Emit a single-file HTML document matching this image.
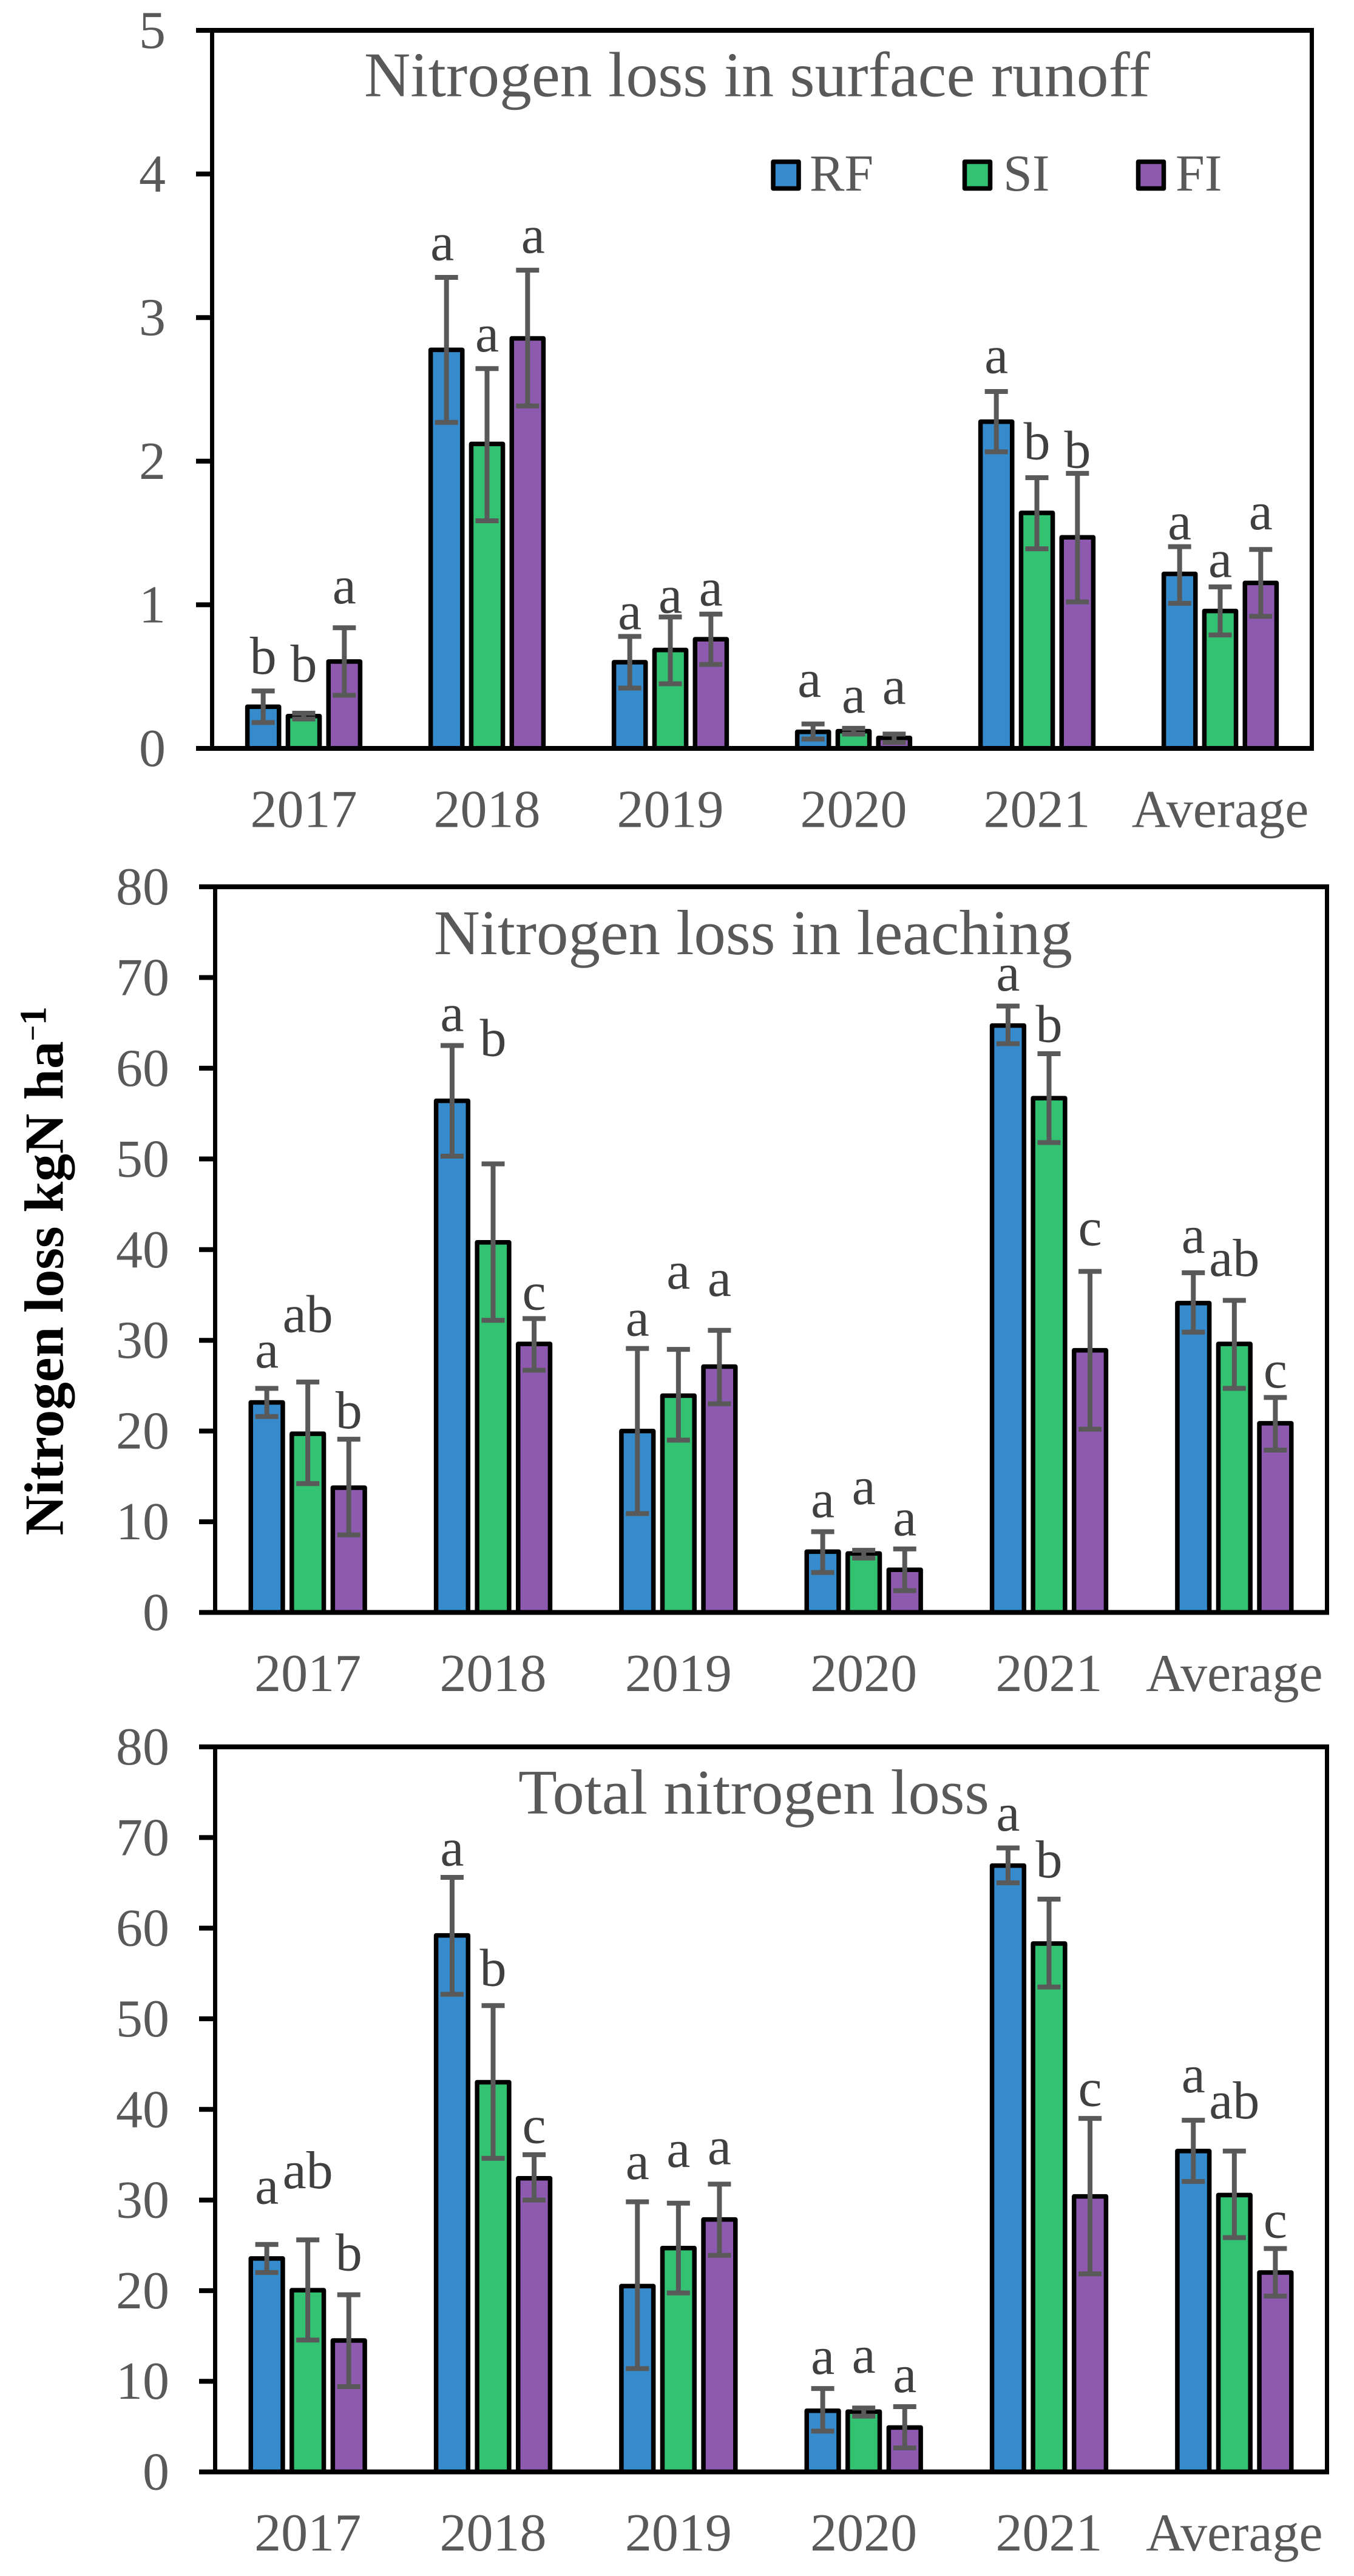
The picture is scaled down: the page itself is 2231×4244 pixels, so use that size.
<!DOCTYPE html>
<html lang="en">
<head>
<meta charset="utf-8">
<title>Nitrogen loss charts</title>
<style>
html,body{margin:0;padding:0;background:#fff;}
svg{display:block;}
text{font-family:"Liberation Serif","Times New Roman",serif;}
</style>
</head>
<body>
<svg id="chart" xmlns="http://www.w3.org/2000/svg" width="2231" height="4244" viewBox="0 0 2231 4244">
  <rect x="0" y="0" width="2231" height="4244" fill="#ffffff"/>
  <g id="panel-runoff"></g>
  <g id="panel-leaching"></g>
  <g id="panel-total"></g>

  <text x="600" y="158.5" font-size="105" fill="#595959" textLength="1295" lengthAdjust="spacingAndGlyphs">Nitrogen loss in surface runoff</text>
  <text x="715" y="1572" font-size="105" fill="#595959" textLength="1052" lengthAdjust="spacingAndGlyphs">Nitrogen loss in leaching</text>
  <text x="854" y="2988" font-size="105" fill="#595959" textLength="776" lengthAdjust="spacingAndGlyphs">Total nitrogen loss</text>

  <g>
    <g>
      <rect x="1274" y="266.5" width="42" height="44" fill="#358bcc" stroke="#000" stroke-width="7.5" stroke-linejoin="round"/>
      <text x="1334" y="314" font-size="86" fill="#595959">RF</text>
    </g>
    <g>
      <rect x="1589.5" y="266.5" width="42" height="44" fill="#33c172" stroke="#000" stroke-width="7.5" stroke-linejoin="round"/>
      <text x="1653" y="314" font-size="86" fill="#595959">SI</text>
    </g>
    <g>
      <rect x="1875.5" y="266.5" width="42" height="44" fill="#8e5ab0" stroke="#000" stroke-width="7.5" stroke-linejoin="round"/>
      <text x="1937" y="314" font-size="86" fill="#595959">FI</text>
    </g>
  </g>

  <text transform="translate(103.5,2529.6) rotate(-90)" font-size="91.5" font-weight="bold" fill="#000">Nitrogen loss kgN ha<tspan dy="-34" font-size="46">−</tspan><tspan dy="6" font-size="62">1</tspan></text>
</svg>

<script>
const categories = ['2017', '2018', '2019', '2020', '2021', 'Average'];

const runoffTicks = ['0', '1', '2', '3', '4', '5'];
const leachingTicks = ['0', '10', '20', '30', '40', '50', '60', '70', '80'];
const totalTicks = ['0', '10', '20', '30', '40', '50', '60', '70', '80'];

const runoffRF = [0.29, 2.775, 0.60, 0.115, 2.275, 1.215];
const runoffRFUpper = [0.40, 3.28, 0.78, 0.17, 2.485, 1.405];
const runoffRFLower = [0.18, 2.27, 0.42, 0.065, 2.065, 1.01];
const runoffSI = [0.225, 2.12, 0.685, 0.12, 1.64, 0.957];
const runoffSIUpper = [0.245, 2.645, 0.915, 0.14, 1.885, 1.125];
const runoffSILower = [0.205, 1.585, 0.45, 0.10, 1.39, 0.79];
const runoffFI = [0.605, 2.855, 0.76, 0.073, 1.47, 1.152];
const runoffFIUpper = [0.84, 3.33, 0.935, 0.10, 1.915, 1.385];
const runoffFILower = [0.37, 2.385, 0.585, 0.042, 1.02, 0.92];
const runoffLettersRF = ['b', 'a', 'a', 'a', 'a', 'a'];
const runoffLettersSI = ['b', 'a', 'a', 'a', 'b', 'a'];
const runoffLettersFI = ['a', 'a', 'a', 'a', 'b', 'a'];
const runoffLiftRF = [0.12, 0.12, 0.05, 0.19, 0.13, 0.05];
const runoffLiftSI = [0.22, 0.12, 0.03, 0.11, 0.13, 0.07];
const runoffLiftFI = [0.17, 0.12, 0.06, 0.21, 0.04, 0.14];

const leachingRF = [23.15, 56.4, 20.0, 6.7, 64.7, 34.1];
const leachingRFUpper = [24.7, 62.5, 29.1, 8.9, 66.85, 37.45];
const leachingRFLower = [21.6, 50.3, 10.9, 4.4, 62.7, 30.9];
const leachingSI = [19.7, 40.8, 23.9, 6.5, 56.7, 29.6];
const leachingSIUpper = [25.4, 49.45, 29.0, 6.85, 61.6, 34.4];
const leachingSILower = [14.2, 32.2, 19.0, 6.0, 51.8, 24.7];
const leachingFI = [13.75, 29.6, 27.1, 4.7, 28.9, 20.85];
const leachingFIUpper = [19.1, 32.4, 31.1, 7.0, 37.6, 23.7];
const leachingFILower = [8.55, 26.7, 23.0, 2.4, 20.2, 17.9];
const leachingLettersRF = ['a', 'a', 'a', 'a', 'a', 'a'];
const leachingLettersSI = ['ab', 'b', 'a', 'a', 'b', 'ab'];
const leachingLettersFI = ['b', 'c', 'a', 'a', 'c', 'c'];
const leachingLiftRF = [2.3, 1.6, 1.4, 1.6, 1.7, 2.2];
const leachingLiftSI = [5.5, 11.9, 6.7, 5.1, 1.3, 2.7];
const leachingLiftFI = [1.2, 1.0, 3.8, 1.5, 2.9, 1.1];

const totalRF = [23.55, 59.2, 20.5, 6.75, 66.9, 35.4];
const totalRFUpper = [25.1, 65.6, 29.8, 9.2, 68.85, 38.8];
const totalRFLower = [22.0, 52.7, 11.4, 4.5, 65.0, 32.05];
const totalSI = [20.05, 43.0, 24.7, 6.65, 58.3, 30.55];
const totalSIUpper = [25.6, 51.45, 29.65, 7.05, 63.2, 35.4];
const totalSILower = [14.55, 34.6, 19.75, 6.15, 53.5, 25.85];
const totalFI = [14.5, 32.4, 27.85, 4.9, 30.4, 22.0];
const totalFIUpper = [19.55, 35.0, 31.75, 7.2, 39.0, 24.65];
const totalFILower = [9.4, 30.0, 23.9, 2.65, 21.85, 19.4];
const totalLettersRF = ['a', 'a', 'a', 'a', 'a', 'a'];
const totalLettersSI = ['ab', 'b', 'a', 'a', 'b', 'ab'];
const totalLettersFI = ['b', 'c', 'a', 'a', 'c', 'c'];
const totalLiftRF = [4.5, 1.3, 2.5, 1.6, 1.9, 3.1];
const totalLiftSI = [5.7, 2.2, 4.0, 3.9, 2.4, 3.6];
const totalLiftFI = [2.7, 1.3, 2.2, 1.6, 1.4, 1.2];

const SVG_NS = 'http://www.w3.org/2000/svg';

function make(parent, tag, attrs) {
  const el = document.createElementNS(SVG_NS, tag);
  Object.keys(attrs).forEach(function (k) { el.setAttribute(k, attrs[k]); });
  parent.appendChild(el);
  return el;
}

function letterNudge(prefix, id) {
  if (prefix !== 'runoff') return 0;
  if (id === '2018-rf') return -7;
  if (id === '2018-fi') return 9;
  if (id === '2020-rf') return -6;
  return 0;
}

function drawPanel(groupId, prefix, box, ticks, series) {
  const group = document.getElementById(groupId);
  const yMax = parseFloat(ticks[ticks.length - 1]);
  const band = (box.right - box.left) / categories.length;
  const step = band * 0.2213;
  const barWidth = step * 0.78;
  const xCenter = function (i) { return box.left + band * (i + 0.5); };
  const yPos = function (v) { return box.bottom - (v / yMax) * (box.bottom - box.top); };

  series.forEach(function (s, si) {
    s.mean.forEach(function (value, i) {
      const cx = xCenter(i) + (si - 1) * step;
      const bar = make(group, 'rect', {
        x: cx - barWidth / 2, y: yPos(value), width: barWidth, height: box.bottom - yPos(value),
        fill: s.color, stroke: '#000', 'stroke-width': 7.5, 'stroke-linejoin': 'round'
      });
      
      
    });
  });

  const frame = [
    [box.left - 26.5, box.top, box.right + 3.5, box.top, 8, 'top'],
    [box.left - 26.5, box.bottom, box.right + 3.5, box.bottom, 8, 'bottom'],
    [box.left, box.top, box.left, box.bottom, 7, 'left'],
    [box.right, box.top - 4, box.right, box.bottom + 4, 7, 'right']
  ];
  frame.forEach(function (f) {
    const edge = make(group, 'line', { x1: f[0], y1: f[1], x2: f[2], y2: f[3], stroke: '#000', 'stroke-width': f[4] });
    
    
  });

  ticks.forEach(function (label) {
    const v = parseFloat(label);
    const tick = make(group, 'line', { x1: box.left - 26.5, y1: yPos(v), x2: box.left, y2: yPos(v), stroke: '#000', 'stroke-width': 8 });
    
    
    const text = make(group, 'text', { x: box.labelRight, y: yPos(v) + 29, 'font-size': 88, fill: '#595959', 'text-anchor': 'end' });
    text.textContent = label;
    
    
  });

  categories.forEach(function (label, i) {
    const text = make(group, 'text', { x: xCenter(i), y: box.bottom + 129.5, 'font-size': 88, fill: '#595959', 'text-anchor': 'middle' });
    text.textContent = label;
    
    
  });

  series.forEach(function (s, si) {
    s.mean.forEach(function (value, i) {
      const cx = xCenter(i) + (si - 1) * step;
      const hi = yPos(s.upper[i]);
      const lo = yPos(s.lower[i]);
      const id = categories[i].toLowerCase() + '-' + s.key;
      const stem = make(group, 'line', { x1: cx, y1: hi, x2: cx, y2: lo, stroke: '#595959', 'stroke-width': 8 });
      
      
      const capTop = make(group, 'line', { x1: cx - 19, y1: hi, x2: cx + 19, y2: hi, stroke: '#595959', 'stroke-width': 8 });
      
      
      const capBottom = make(group, 'line', { x1: cx - 19, y1: lo, x2: cx + 19, y2: lo, stroke: '#595959', 'stroke-width': 8 });
      
      
      const letter = make(group, 'text', { x: cx + letterNudge(prefix, id), y: yPos(s.upper[i] + s.lift[i]), 'font-size': 88, fill: '#404040', 'text-anchor': 'middle' });
      letter.textContent = s.letters[i];
      
      
    });
  });
}

const colorRF = '#358bcc';
const colorSI = '#33c172';
const colorFI = '#8e5ab0';

drawPanel('panel-runoff', 'runoff', { left: 349.5, right: 2161.5, top: 50, bottom: 1233, labelRight: 273 }, runoffTicks, [
  { key: 'rf', color: colorRF, mean: runoffRF, upper: runoffRFUpper, lower: runoffRFLower, letters: runoffLettersRF, lift: runoffLiftRF },
  { key: 'si', color: colorSI, mean: runoffSI, upper: runoffSIUpper, lower: runoffSILower, letters: runoffLettersSI, lift: runoffLiftSI },
  { key: 'fi', color: colorFI, mean: runoffFI, upper: runoffFIUpper, lower: runoffFILower, letters: runoffLettersFI, lift: runoffLiftFI }
]);

drawPanel('panel-leaching', 'leaching', { left: 354.5, right: 2186.5, top: 1461, bottom: 2656.5, labelRight: 279 }, leachingTicks, [
  { key: 'rf', color: colorRF, mean: leachingRF, upper: leachingRFUpper, lower: leachingRFLower, letters: leachingLettersRF, lift: leachingLiftRF },
  { key: 'si', color: colorSI, mean: leachingSI, upper: leachingSIUpper, lower: leachingSILower, letters: leachingLettersSI, lift: leachingLiftSI },
  { key: 'fi', color: colorFI, mean: leachingFI, upper: leachingFIUpper, lower: leachingFILower, letters: leachingLettersFI, lift: leachingLiftFI }
]);

drawPanel('panel-total', 'total', { left: 354.5, right: 2186.5, top: 2878, bottom: 4072.5, labelRight: 279 }, totalTicks, [
  { key: 'rf', color: colorRF, mean: totalRF, upper: totalRFUpper, lower: totalRFLower, letters: totalLettersRF, lift: totalLiftRF },
  { key: 'si', color: colorSI, mean: totalSI, upper: totalSIUpper, lower: totalSILower, letters: totalLettersSI, lift: totalLiftSI },
  { key: 'fi', color: colorFI, mean: totalFI, upper: totalFIUpper, lower: totalFILower, letters: totalLettersFI, lift: totalLiftFI }
]);
</script>
</body>
</html>
